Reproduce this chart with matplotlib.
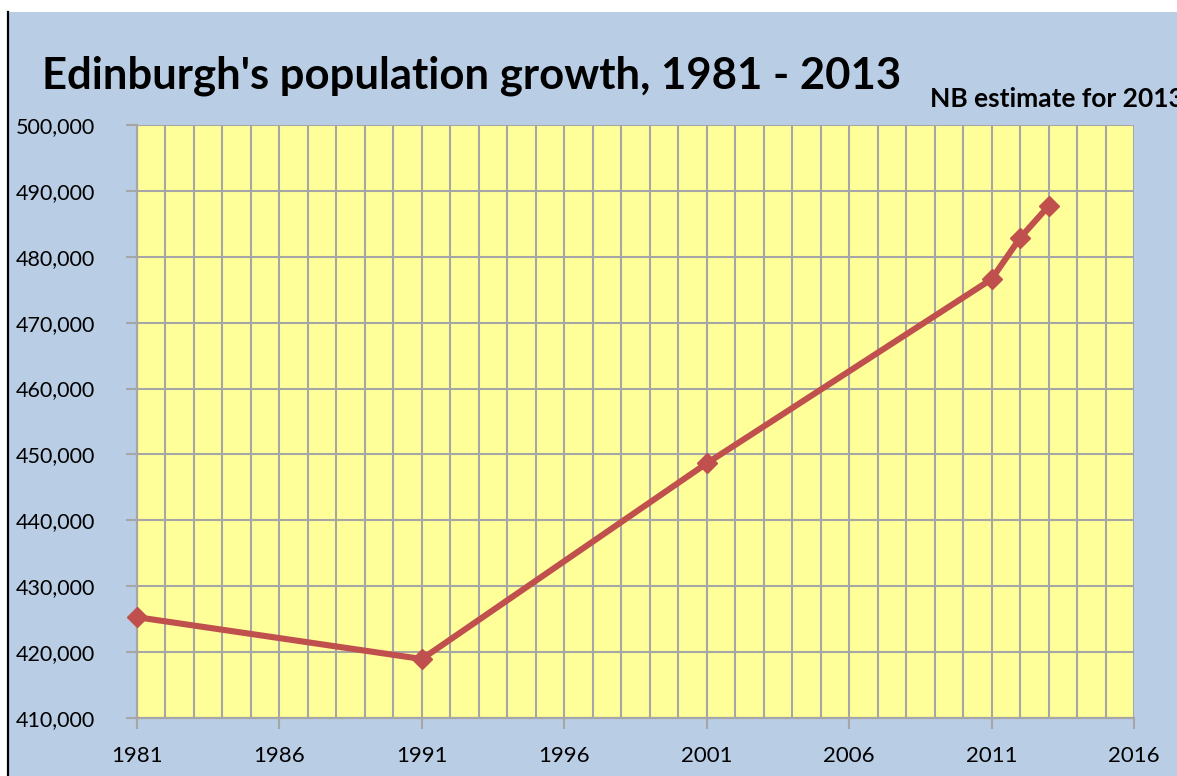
import matplotlib
matplotlib.use("Agg")
import matplotlib.pyplot as plt
from matplotlib.patches import Rectangle
from matplotlib.lines import Line2D
from matplotlib.ticker import FuncFormatter, MultipleLocator, FixedLocator

# data
years = [1981, 1991, 2001, 2011, 2012, 2013]
population = [425300, 418950, 448650, 476600, 482850, 487700]
year_ticks = [1981, 1986, 1991, 1996, 2001, 2006, 2011, 2016]

title = "Edinburgh's population growth, 1981 - 2013"
note = "NB estimate for 2013"

BLUE = "#b9cde5"
YELLOW = "#ffff99"
GRID = "#a6a6a6"
RED = "#c0504d"
FONT = "Lato"

W, H = 1177, 776
fig = plt.figure(figsize=(W / 100, H / 100), dpi=100, facecolor="white")

# blue chart background with black line on the left edge
fig.patches.append(Rectangle((9 / W, 0), 1, 1 - 12 / H, transform=fig.transFigure,
                             facecolor=BLUE, edgecolor="none", zorder=-10))
fig.lines.append(Line2D([8 / W, 8 / W], [0, 1 - 12 / H], transform=fig.transFigure,
                        color="black", lw=1.6))

ax = fig.add_axes([137 / W, 1 - 718 / H, (1134 - 137) / W, (718 - 125) / H])
ax.set_facecolor(YELLOW)

ax.plot(years, population, color=RED, lw=4.4, marker="D", ms=10,
        markerfacecolor=RED, markeredgecolor=RED, zorder=5, clip_on=False)

ax.set_xlim(1981, 2016)
ax.set_ylim(410000, 500000)
ax.xaxis.set_major_locator(FixedLocator(year_ticks))
ax.xaxis.set_minor_locator(MultipleLocator(1))
ax.yaxis.set_major_locator(MultipleLocator(10000))
ax.yaxis.set_major_formatter(FuncFormatter(lambda v, p: f"{int(v):,}"))

ax.grid(which="major", axis="y", color=GRID, lw=1.5)
ax.grid(which="both", axis="x", color=GRID, lw=1.5)
ax.set_axisbelow(True)

for side in ["top", "right"]:
    ax.spines[side].set_visible(False)
for side in ["left", "bottom"]:
    ax.spines[side].set_color(GRID)
    ax.spines[side].set_linewidth(1.6)

ax.tick_params(axis="both", which="major", length=8, width=1.5, color=GRID,
               direction="out")
ax.tick_params(axis="y", pad=22, labelsize=15.5)
ax.tick_params(axis="x", pad=12, labelsize=16)
ax.tick_params(axis="x", which="minor", length=0)
for lab in ax.get_xticklabels() + ax.get_yticklabels():
    lab.set_fontfamily(FONT)

fig.text(42 / W, 1 - 88 / H, title, fontsize=31.4, fontweight="bold",
         family=FONT, va="baseline", ha="left")
# the note runs off the right edge in the original chart as well
fig.text(930 / W, 1 - 107 / H, note, fontsize=19, fontweight="bold",
         family=FONT, va="baseline", ha="left")

fig.savefig("out.png", dpi=100, facecolor="white")
